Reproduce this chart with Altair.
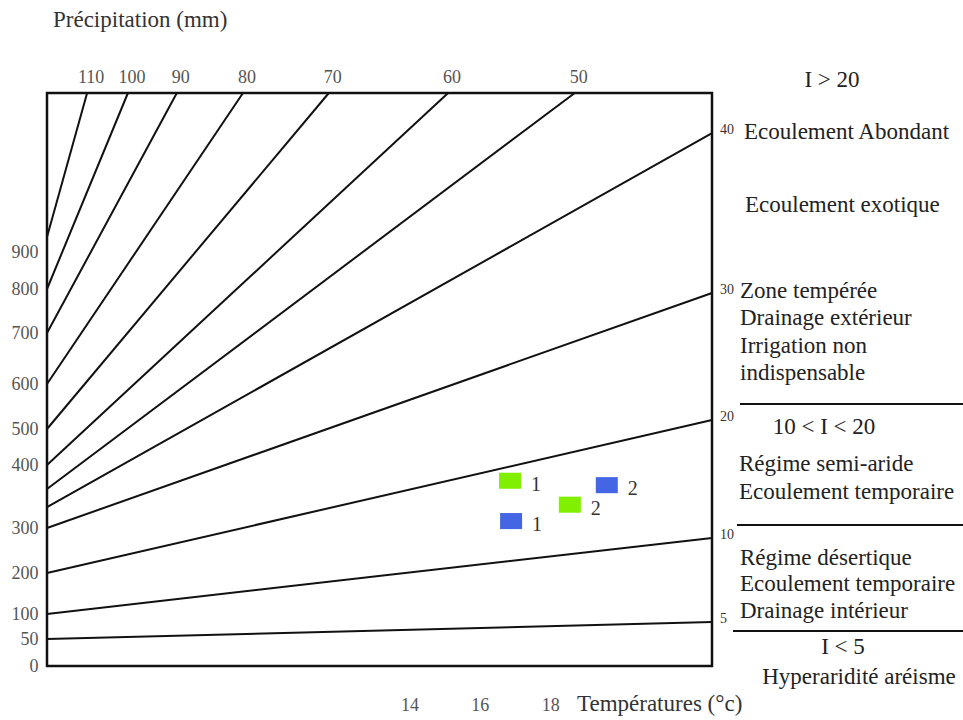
import altair as alt
import pandas as pd

# ---------------- data ----------------
# De Martonne aridity-index lines
index_vals   = [5, 10, 20, 30, 40, 50, 60, 70, 80, 90, 100, 110]
start_precip = [50, 100, 200, 300, 333, 362, 400, 500, 600, 700, 800, 938]   # at left edge
end_temp     = [22.6, 22.6, 22.6, 22.6, 22.6, 18.7, 15.1, 11.71, 9.27, 7.39, 6.0, 4.84]
end_precip   = [84, 278, 520, 791, 1199, 1300, 1300, 1300, 1300, 1300, 1300, 1300]

T_LEFT, T_RIGHT = 3.7, 22.6
P_TOP = 1300

# stations
st_temp   = [16.86, 19.61, 18.56, 16.89]
st_precip = [375, 368, 337, 311]
st_label  = ["1", "2", "2", "1"]
st_group  = ["A", "B", "A", "B"]

# axis ticks
y_ticks = [0, 50, 100, 200, 300, 400, 500, 600, 700, 800, 900]
x_ticks = [14, 16, 18]

# ---------------- tables ----------------
rows = []
for i, p0, t1, p1 in zip(index_vals, start_precip, end_temp, end_precip):
    rows.append({"I": i, "T": T_LEFT, "P": p0, "o": 0})
    rows.append({"I": i, "T": t1, "P": p1, "o": 1})
lines_df = pd.DataFrame(rows)
ends_df = pd.DataFrame({"I": index_vals, "T": end_temp, "P": end_precip,
                        "lab": [str(v) for v in index_vals]})
top_df = ends_df[ends_df.P >= P_TOP]
right_df = ends_df[ends_df.P < P_TOP]
st_df = pd.DataFrame({"T": st_temp, "P": st_precip, "lab": st_label, "g": st_group})

SERIF = "Liberation Serif"
W, H = 665, 573

xs = alt.Scale(domain=[T_LEFT, T_RIGHT], nice=False, zero=False)
ys = alt.Scale(domain=y_ticks + [P_TOP],
               range=[573, 546, 521, 480, 435, 372, 336, 291, 240, 196, 159, 0],
               nice=False, zero=False)

X = alt.X("T:Q", scale=xs,
          axis=alt.Axis(values=x_ticks, orient="bottom", offset=28, domain=False,
                        ticks=False, grid=False, title=None, labelFont=SERIF,
                        labelFontSize=18, labelColor="#555", labelPadding=2))
Y = alt.Y("P:Q", scale=ys,
          axis=alt.Axis(values=y_ticks, domain=False, ticks=False, grid=False,
                        title=None, labelFont=SERIF, labelFontSize=18,
                        labelColor="#555", labelPadding=9))

lines = alt.Chart(lines_df).mark_line(color="#111", strokeWidth=2).encode(
    x=X, y=Y, detail="I:N", order="o:Q")

top_labels = alt.Chart(top_df).mark_text(
    font=SERIF, fontSize=18, color="#555", dy=-15, dx=4).encode(
    x=alt.X("T:Q", scale=xs), y=alt.Y("P:Q", scale=ys), text="lab:N")

right_labels = alt.Chart(right_df).mark_text(
    font=SERIF, fontSize=14, color="#333", align="left", dx=8, dy=-3).encode(
    x=alt.X("T:Q", scale=xs), y=alt.Y("P:Q", scale=ys), text="lab:N")

rect_shape = "M-1,-0.73L1,-0.73L1,0.73L-1,0.73Z"
stations = alt.Chart(st_df).mark_point(
    shape=rect_shape, filled=True, size=484, opacity=1, strokeWidth=0).encode(
    x=alt.X("T:Q", scale=xs), y=alt.Y("P:Q", scale=ys),
    color=alt.Color("g:N", scale=alt.Scale(domain=["A", "B"],
                                           range=["#80f000", "#4466e4"]), legend=None))
st_labels = alt.Chart(st_df).mark_text(
    font=SERIF, fontSize=20, color="#333", dx=26, dy=4).encode(
    x=alt.X("T:Q", scale=xs), y=alt.Y("P:Q", scale=ys), text="lab:N")

one = pd.DataFrame({"k": [0]})


def note(txt, x, y, align="left", size=23, color="#222"):
    return alt.Chart(one).mark_text(
        text=txt, font=SERIF, fontSize=size, color=color, align=align,
        baseline="middle").encode(x=alt.value(x), y=alt.value(y))


def hrule(x1, x2, y):
    return alt.Chart(one).mark_rule(color="#111", strokeWidth=2).encode(
        x=alt.value(x1), x2=alt.value(x2), y=alt.value(y))


notes = [
    note("Précipitation (mm)", 6, -73, color="#333"),
    note("I > 20", 785, -13, align="center"),
    note("Ecoulement Abondant", 697, 39),
    note("Ecoulement exotique", 698, 112),
    note("Zone tempérée", 693, 198),
    note("Drainage extérieur", 693, 225),
    note("Irrigation non", 693, 253),
    note("indispensable", 693, 280),
    hrule(693, 916, 311),
    note("10 < I < 20", 777, 334, align="center"),
    note("Régime semi-aride", 692, 371),
    note("Ecoulement temporaire", 692, 399),
    hrule(690, 916, 432),
    note("Régime désertique", 693, 465),
    note("Ecoulement temporaire", 693, 491),
    note("Drainage intérieur", 693, 518),
    hrule(686, 916, 538),
    note("I < 5", 796, 554, align="center"),
    note("Hyperaridité aréisme", 812, 584, align="center"),
    note("Températures (°c)", 530, 611, color="#333"),
]

chart = alt.layer(lines, top_labels, right_labels, stations, st_labels, *notes).properties(
    width=W, height=H,
    padding={"left": 47, "top": 93, "right": 251, "bottom": 54},
    autosize=alt.AutoSizeParams(type="none"),
    background="white",
).configure_view(stroke="#111", strokeWidth=2.5)

chart.save("out.html", embed_options={"renderer": "svg", "actions": False})
